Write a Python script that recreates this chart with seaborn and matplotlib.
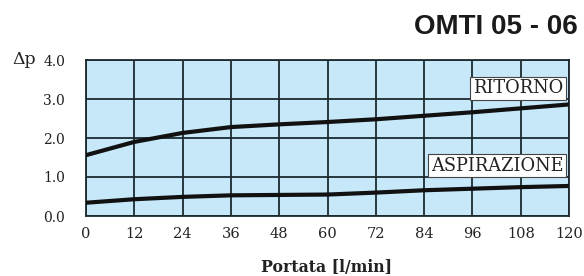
import matplotlib
matplotlib.use("Agg")
import matplotlib.pyplot as plt
import seaborn as sns
import pandas as pd

portata = [0, 12, 24, 36, 48, 60, 72, 84, 96, 108, 120]
ritorno = [1.56, 1.90, 2.13, 2.28, 2.35, 2.41, 2.48, 2.57, 2.66, 2.76, 2.86]
aspirazione = [0.34, 0.43, 0.49, 0.53, 0.54, 0.55, 0.60, 0.66, 0.70, 0.74, 0.77]
x_ticks = [0, 12, 24, 36, 48, 60, 72, 84, 96, 108, 120]
y_ticks = [0.0, 1.0, 2.0, 3.0, 4.0]
y_tick_labels = ["0.0", "1.0", "2.0", "3.0", "4.0"]

df = pd.DataFrame({
    "Portata": portata * 2,
    "dp": ritorno + aspirazione,
    "serie": ["RITORNO"] * len(portata) + ["ASPIRAZIONE"] * len(portata),
})

sns.set_theme(style="white")
plt.rcParams["font.family"] = ["DejaVu Serif"]

fig = plt.figure(figsize=(5.84, 2.76), dpi=100)
ax = fig.add_axes([86 / 584, 1 - 216 / 276, (569 - 86) / 584, (216 - 60) / 276])
ax.set_facecolor("#c6e8f8")

grid_c = "#1c2a30"
sns.lineplot(data=df, x="Portata", y="dp", hue="serie", palette=["#111111", "#111111"],
             linewidth=3.0, legend=False, ax=ax, zorder=5)

ax.set_xlim(0, 120)
ax.set_ylim(0, 4.0)
ax.set_xticks(x_ticks)
ax.set_xticklabels([str(t) for t in x_ticks])
ax.set_yticks(y_ticks)
ax.set_yticklabels(y_tick_labels)
ax.grid(True, color=grid_c, linewidth=1.3)
ax.set_axisbelow(True)
for s in ax.spines.values():
    s.set_color(grid_c)
    s.set_linewidth(1.3)
ax.tick_params(axis="y", direction="out", length=7, width=1.3, color=grid_c,
               labelsize=10, pad=8, labelcolor="#222222")
ax.tick_params(axis="x", direction="out", length=4, width=1.3, color=grid_c,
               labelsize=10.5, pad=4, labelcolor="#222222")
ax.set_xlabel("")
ax.set_ylabel("")

box = dict(boxstyle="square,pad=0.15", facecolor="white", edgecolor="#444444", linewidth=0.8)
ax.text(118.6, 3.27, "RITORNO", ha="right", va="center", fontsize=12.8, color="#222222",
        bbox=box, zorder=6)
ax.text(118.6, 1.29, "ASPIRAZIONE", ha="right", va="center", fontsize=12.8, color="#222222",
        bbox=box, zorder=6)

fig.text(12 / 584, 1 - 60 / 276, "Δp", ha="left", va="center", fontsize=12.5, color="#222222")
fig.text(327 / 584, 1 - 267 / 276, "Portata [l/min]", ha="center", va="center",
         fontsize=11.3, color="#222222", fontweight="bold")
fig.text(578 / 584, 1 - 27 / 276, "OMTI 05 - 06", ha="right", va="center", fontsize=20,
         fontweight="bold", color="#1a1a1a",
         family=["Liberation Sans", "DejaVu Sans"])

fig.savefig("out.png", dpi=100, facecolor="white")
